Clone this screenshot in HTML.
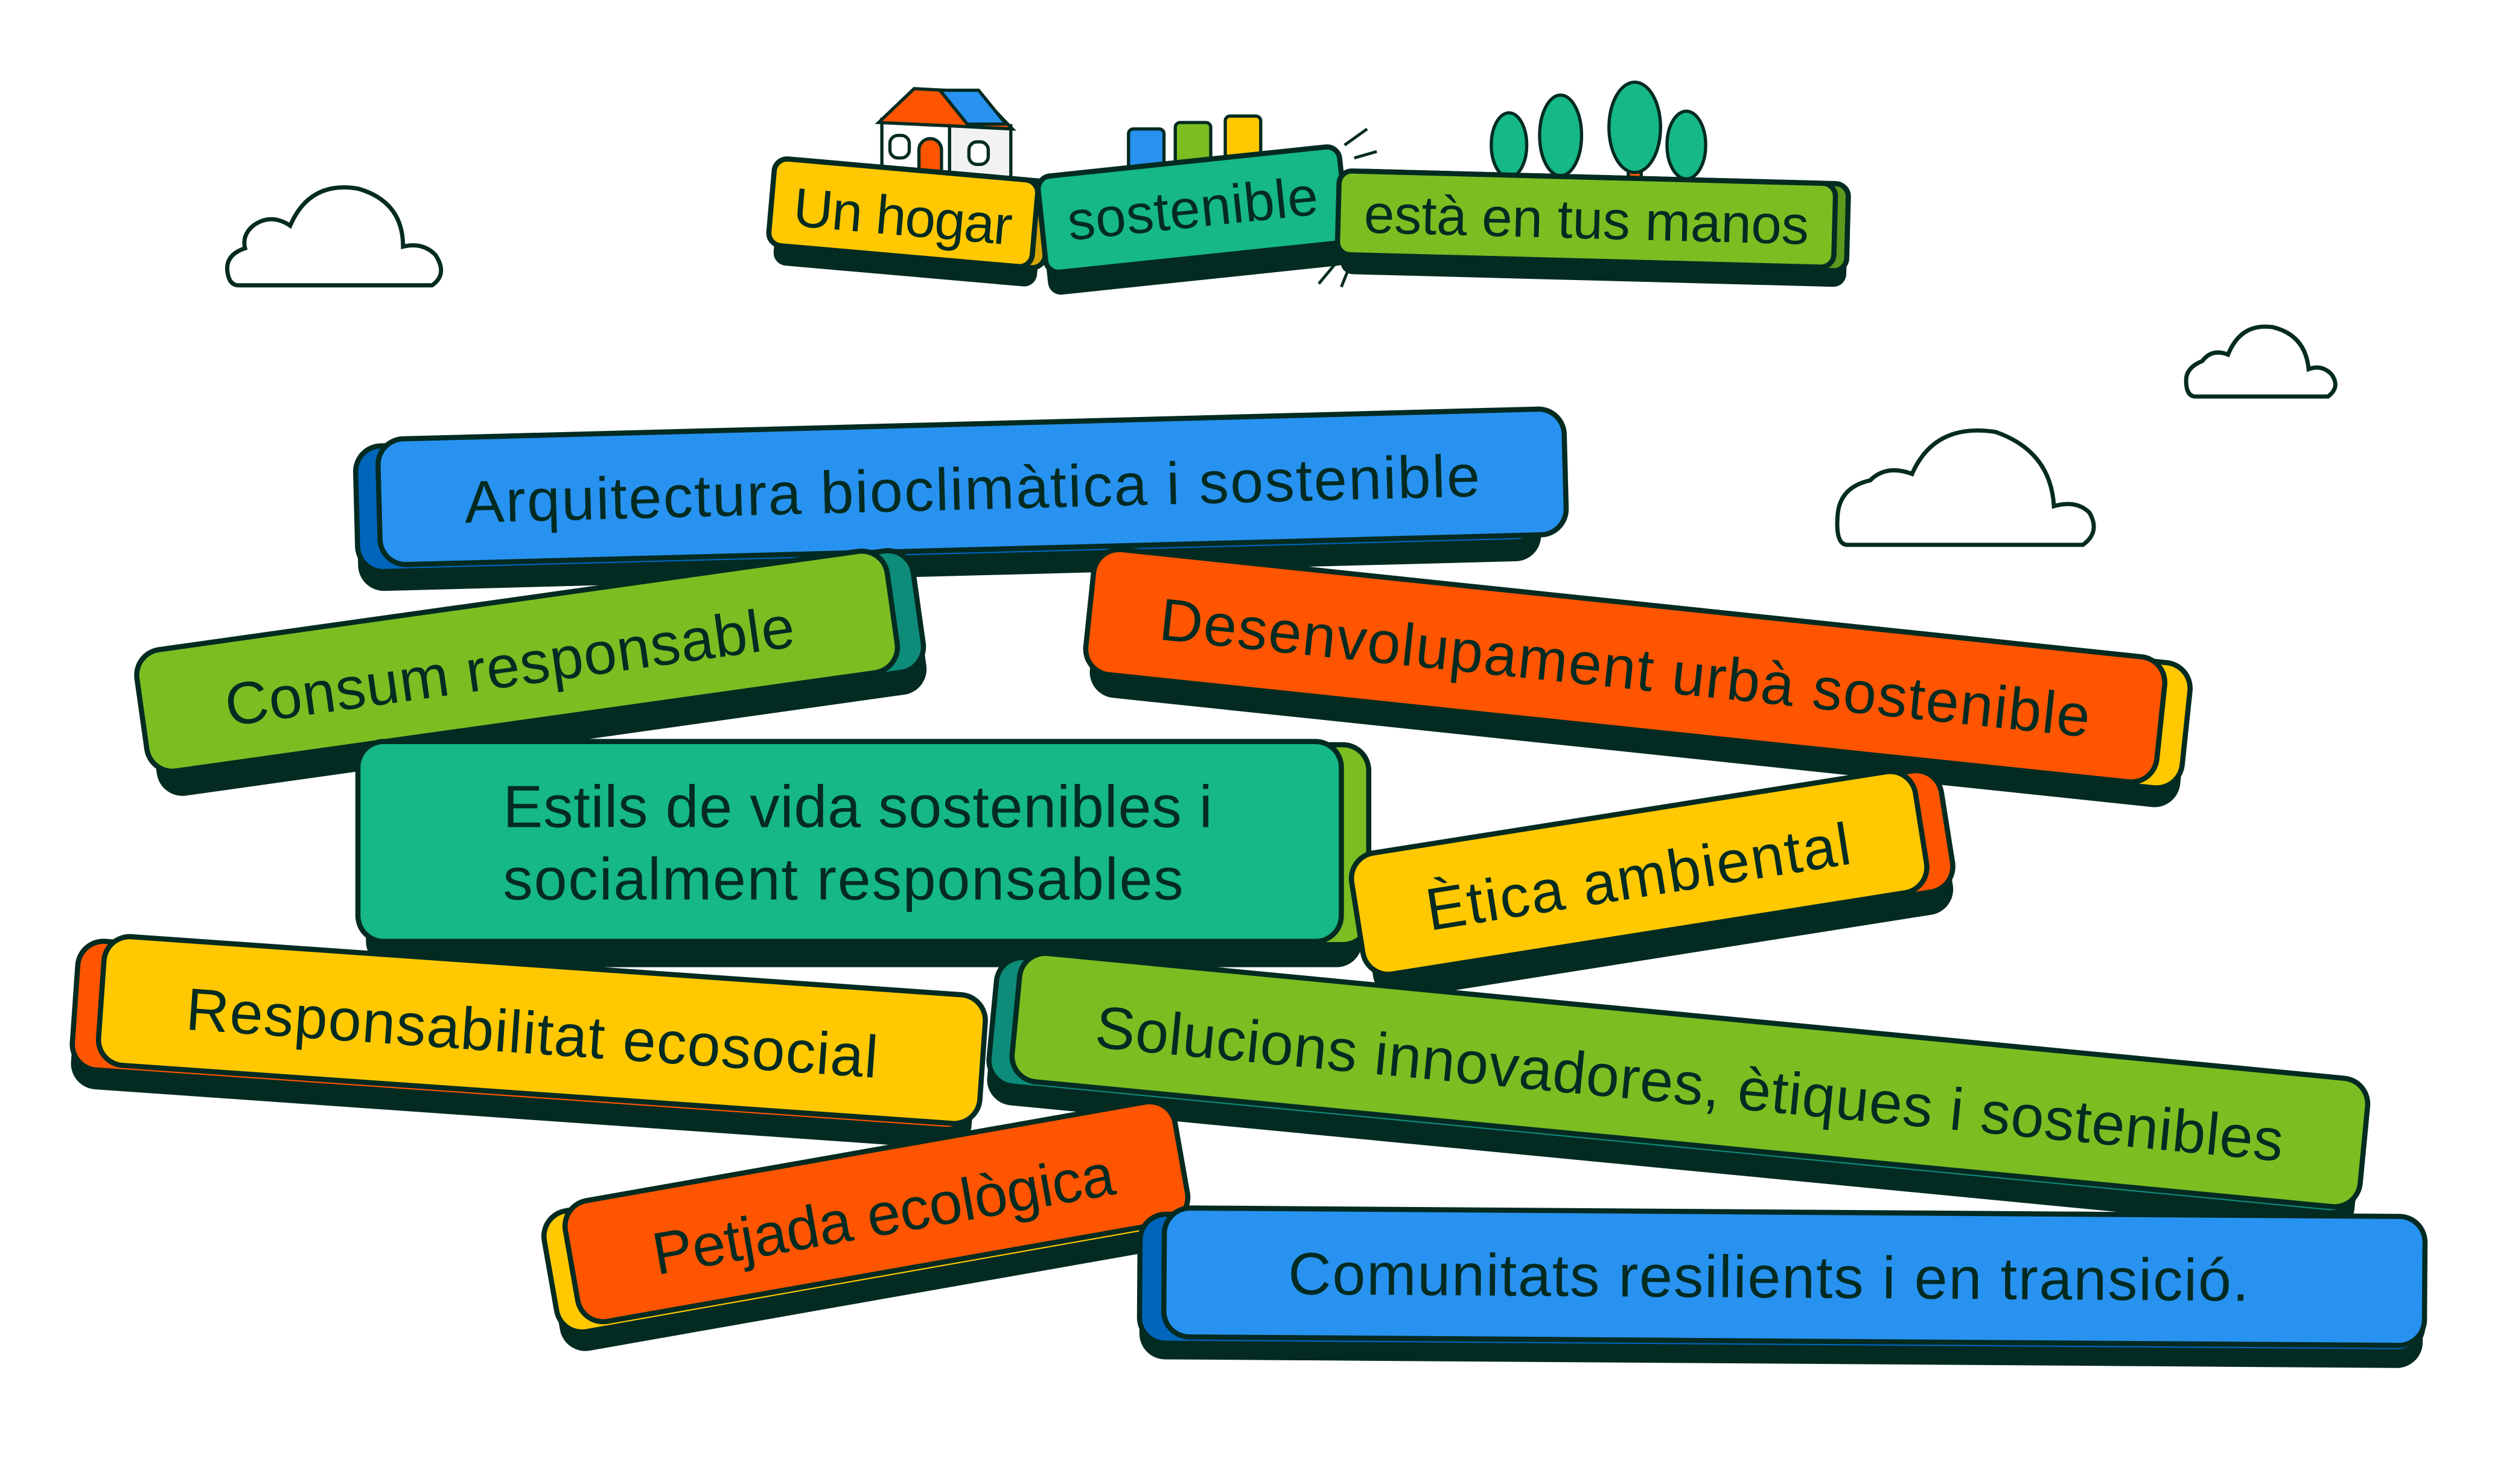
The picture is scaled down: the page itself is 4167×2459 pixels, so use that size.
<!DOCTYPE html>
<html><head><meta charset="utf-8"><style>
html,body{margin:0;padding:0;background:#fff;}
svg{display:block;}
text{font-family:"Liberation Sans",sans-serif;fill:#032B22;}
</style></head><body>
<svg width="4167" height="2459" viewBox="0 0 1560 920.6" preserveAspectRatio="none" xmlns="http://www.w3.org/2000/svg">
<defs>
<style>
.m{stroke:#032B22;stroke-width:3.2;}
.sh{fill:#032B22;}
</style>
</defs>

<!-- clouds -->
<g fill="#fff" stroke="#032B22" stroke-width="2.6">
<path d="M148,177 L268,177 Q278,170 270,158 Q262,150 250,153 Q250,125 222,117 Q192,112 180,140 Q168,132 157,140 Q150,146 152,154 Q140,158 141,168 Q142,177 148,177 Z"/>
<path d="M1362,246 L1444,246 Q1452,240 1446,232 Q1440,226 1432,229 Q1430,208 1410,203 Q1390,200 1382,220 Q1372,216 1366,224 Q1356,228 1356,236 Q1356,246 1362,246 Z"/>
<path d="M1146,338 L1292,338 Q1303,330 1296,318 Q1288,310 1274,314 Q1272,280 1238,268 Q1200,262 1186,294 Q1170,288 1160,298 Q1142,302 1140,318 Q1138,338 1146,338 Z"/>
</g>

<!-- top: house -->
<g stroke="#032B22" stroke-width="2">
<rect x="547" y="74" width="42" height="40" fill="#fff"/>
<rect x="589" y="78" width="38" height="36" fill="#f2f2f2"/>
<polygon points="545,76 567,55 606,57 628,80 588,78" fill="#FF5500"/>
<polygon points="583,56 607,56 624,77 600,77" fill="#2892F0"/>
<rect x="570" y="86" width="14" height="28" rx="7" fill="#FF5500"/>
<rect x="552" y="84" width="12" height="14" rx="5" fill="#fff"/>
<rect x="601" y="88" width="12" height="14" rx="5" fill="#fff"/>
</g>
<!-- bins -->
<g stroke="#032B22" stroke-width="2">
<rect x="700" y="80" width="22" height="32" rx="3" fill="#2892F0"/>
<rect x="729" y="76" width="22" height="30" rx="3" fill="#7BBE22"/>
<rect x="760" y="72" width="22" height="30" rx="3" fill="#FFC800"/>
</g>
<g stroke="#032B22" stroke-width="1.8">
<line x1="834" y1="90" x2="848" y2="80"/><line x1="840" y1="98" x2="854" y2="94"/>
<line x1="812" y1="162" x2="826" y2="155"/><line x1="818" y1="176" x2="828" y2="164"/><line x1="832" y1="178" x2="836" y2="168"/>
</g>
<!-- trees -->
<g stroke="#032B22" stroke-width="2">
<rect x="933" y="98" width="6" height="12" fill="#FF5500"/>
<rect x="965" y="98" width="6" height="14" fill="#FF5500"/>
<rect x="1010" y="96" width="8" height="16" fill="#FF5500"/>
<rect x="1043" y="100" width="6" height="12" fill="#FF5500"/>
<ellipse cx="936" cy="90" rx="11" ry="20" fill="#15B886"/>
<ellipse cx="968" cy="84" rx="13" ry="25" fill="#15B886"/>
<ellipse cx="1014" cy="79" rx="16" ry="28" fill="#15B886"/>
<ellipse cx="1046" cy="90" rx="12" ry="21" fill="#15B886"/>
</g>

<!-- top labels -->
<g transform="translate(560,135) rotate(5)">
<rect class="sh" x="-78" y="-22" width="164" height="58" rx="8"/>
<rect class="m" x="-76" y="-30" width="166" height="54" rx="8" fill="#D6A500"/>
<rect class="m" x="-82" y="-30" width="164" height="54" rx="8" fill="#FFC800"/>
<text x="0" y="11" font-size="34" text-anchor="middle" textLength="136">Un hogar</text>
</g>
<g transform="translate(740,132) rotate(-6)">
<rect class="sh" x="-94" y="-22" width="188" height="64" rx="8"/>
<rect class="m" x="-94" y="-32" width="188" height="60" rx="8" fill="#15B886"/>
<text x="0" y="9" font-size="34" text-anchor="middle" textLength="156">sostenible</text>
</g>
<g transform="translate(988,138) rotate(1.5)">
<rect class="sh" x="-156" y="-18" width="314" height="54" rx="8"/>
<rect class="m" x="-152" y="-28" width="310" height="54" rx="8" fill="#5A9A1C"/>
<rect class="m" x="-158" y="-28" width="308" height="52" rx="8" fill="#7BBE22"/>
<text x="-4" y="10" font-size="34" text-anchor="middle" textLength="276">està en tus manos</text>
</g>

<!-- Arquitectura -->
<g transform="translate(603,303) rotate(-1.5)">
<rect class="sh" x="-382" y="-28" width="734" height="82" rx="16"/>
<rect class="m" x="-382" y="-36" width="734" height="78" rx="16" fill="#0066BB"/>
<rect class="m" x="-368" y="-40" width="736" height="78" rx="16" fill="#2892F0"/>
<text x="0" y="13" font-size="37" text-anchor="middle" textLength="630">Arquitectura bioclimàtica i sostenible</text>
</g>

<!-- Consum -->
<g transform="translate(322,412) rotate(-8)">
<rect class="sh" x="-232" y="-30" width="482" height="82" rx="16"/>
<rect class="m" x="-222" y="-38" width="472" height="76" rx="16" fill="#0E8C7A"/>
<rect class="m" x="-236" y="-40" width="470" height="76" rx="16" fill="#7BBE22"/>
<text x="-6" y="13" font-size="37" text-anchor="middle" textLength="356">Consum responsable</text>
</g>

<!-- Desenvolupament -->
<g transform="translate(1008,414) rotate(6)">
<rect class="sh" x="-330" y="-30" width="680" height="82" rx="16"/>
<rect class="m" x="-320" y="-38" width="670" height="78" rx="16" fill="#FFC800"/>
<rect class="m" x="-334" y="-40" width="668" height="78" rx="16" fill="#FF5500"/>
<text x="0" y="13" font-size="37" text-anchor="middle" textLength="580">Desenvolupament urbà sostenible</text>
</g>

<!-- Estils -->
<g transform="translate(527,524)">
<rect class="sh" x="-300" y="-54" width="618" height="130" rx="16"/>
<rect class="m" x="-296" y="-62" width="618" height="124" rx="16" fill="#7BBE22"/>
<rect class="m" x="-305" y="-64" width="610" height="124" rx="16" fill="#15B886"/>
<text x="-215" y="-11" font-size="37" textLength="440">Estils de vida sostenibles i</text>
<text x="-215" y="34" font-size="37" textLength="422">socialment responsables</text>
</g>

<!-- Etica -->
<g transform="translate(1020,543) rotate(-9)">
<rect class="sh" x="-176" y="-28" width="364" height="80" rx="16"/>
<rect class="m" x="-166" y="-38" width="356" height="76" rx="16" fill="#FF5500"/>
<rect class="m" x="-180" y="-40" width="354" height="76" rx="16" fill="#FFC800"/>
<text x="-4" y="13" font-size="37" text-anchor="middle" textLength="266">Ètica ambiental</text>
</g>

<!-- Responsabilitat -->
<g transform="translate(336,641) rotate(4)">
<rect class="sh" x="-290" y="-30" width="560" height="84" rx="16"/>
<rect class="m" x="-290" y="-38" width="560" height="80" rx="16" fill="#FF5500"/>
<rect class="m" x="-274" y="-42" width="548" height="80" rx="16" fill="#FFC800"/>
<text x="-6" y="13" font-size="37" text-anchor="middle" textLength="430">Responsabilitat ecosocial</text>
</g>

<!-- Solucions -->
<g transform="translate(1048,672) rotate(5.5)">
<rect class="sh" x="-434" y="-30" width="852" height="84" rx="16"/>
<rect class="m" x="-434" y="-38" width="852" height="80" rx="16" fill="#0E8C7A"/>
<rect class="m" x="-420" y="-42" width="840" height="80" rx="16" fill="#7BBE22"/>
<text x="0" y="13" font-size="37" text-anchor="middle" textLength="740">Solucions innovadores, ètiques i sostenibles</text>
</g>

<!-- Petjada -->
<g transform="translate(542,754) rotate(-10)">
<rect class="sh" x="-204" y="-28" width="394" height="80" rx="16"/>
<rect class="m" x="-204" y="-36" width="394" height="76" rx="16" fill="#FFC800"/>
<rect class="m" x="-190" y="-40" width="384" height="76" rx="16" fill="#FF5500"/>
<text x="6" y="13" font-size="37" text-anchor="middle" textLength="290">Petjada ecològica</text>
</g>

<!-- Comunitats -->
<g transform="translate(1113,794) rotate(0.4)">
<rect class="sh" x="-406" y="-32" width="796" height="84" rx="16"/>
<rect class="m" x="-406" y="-38" width="796" height="80" rx="16" fill="#0066BB"/>
<rect class="m" x="-391" y="-42" width="782" height="80" rx="16" fill="#2892F0"/>
<text x="-16" y="11" font-size="37" text-anchor="middle" textLength="596">Comunitats resilients i en transició.</text>
</g>
</svg>
</body></html>
